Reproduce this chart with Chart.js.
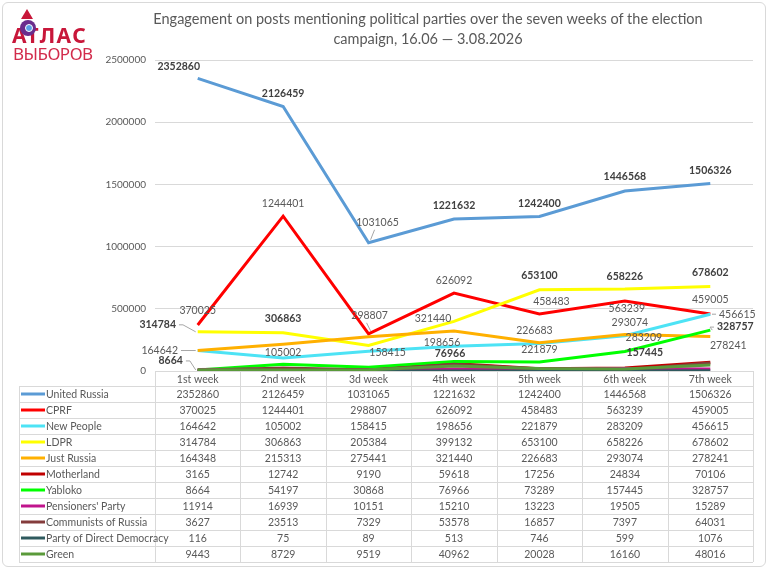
<!DOCTYPE html>
<html>
<head>
<meta charset="utf-8">
<script src="https://cdn.jsdelivr.net/npm/chart.js@4"></script>
<style>
  body { margin: 0; background: #fff; }
  #wrap { position: relative; width: 768px; height: 570px; }
  #frame { position: absolute; left: 2px; top: 2px; width: 762px; height: 563px; border: 1px solid #d9d9d9; border-radius: 6px; }
  #title { position: absolute; left: 100px; width: 656px; top: 9px; text-align: center; font: 14.5px Lato, sans-serif; color: #595959; line-height: 20px; }
  #logo1 { position: absolute; left: 12px; top: 22px; font: bold 21px "Noto Sans", sans-serif; color: #c8173a; letter-spacing: 1.5px; line-height: 26px; }
  #logo2 { position: absolute; left: 13px; top: 43px; font: 17px "Noto Sans", sans-serif; color: #d22b4b; letter-spacing: -0.5px; line-height: 22px; }
  #apex { position: absolute; left: 21px; top: 9px; width: 0; height: 0; border-left: 6px solid transparent; border-right: 6px solid transparent; border-bottom: 10px solid #c8173a; }
  #eye { position: absolute; left: 20px; top: 20px; width: 16px; height: 16px; border-radius: 50%; background: #6b2d8c; }
  #eye i { position: absolute; left: 5px; top: 4px; width: 6px; height: 6px; border-radius: 50%; background: #5aa0e6; border: 1px solid #fff; }
  canvas { position: absolute; left: 0; top: 0; }
</style>
</head>
<body>
<div id="wrap">
  <div id="frame"></div>
  <canvas id="chart" width="768" height="570"></canvas>
  <div id="title">Engagement on posts mentioning political parties over the seven weeks of the election<br>campaign, 16.06 — 3.08.2026</div>
  <div id="logo1">АТЛАС</div>
  <div id="apex"></div>
  <div id="eye"><i></i></div>
  <div id="logo2">ВЫБОРОВ</div>
</div>
<script>
const weeks = ['1st week', '2nd week', '3d week', '4th week', '5th week', '6th week', '7th week'];
const parties = ['United Russia', 'CPRF', 'New People', 'LDPR', 'Just Russia', 'Motherland', 'Yabloko',
  "Pensioners' Party", 'Communists of Russia', 'Party of Direct Democracy', 'Green'];

const unitedRussia = [2352860, 2126459, 1031065, 1221632, 1242400, 1446568, 1506326];
const cprf = [370025, 1244401, 298807, 626092, 458483, 563239, 459005];
const newPeople = [164642, 105002, 158415, 198656, 221879, 283209, 456615];
const ldpr = [314784, 306863, 205384, 399132, 653100, 658226, 678602];
const justRussia = [164348, 215313, 275441, 321440, 226683, 293074, 278241];
const motherland = [3165, 12742, 9190, 59618, 17256, 24834, 70106];
const yabloko = [8664, 54197, 30868, 76966, 73289, 157445, 328757];
const pensioners = [11914, 16939, 10151, 15210, 13223, 19505, 15289];
const communists = [3627, 23513, 7329, 53578, 16857, 7397, 64031];
const directDemocracy = [116, 75, 89, 513, 746, 599, 1076];
const green = [9443, 8729, 9519, 40962, 20028, 16160, 48016];

const series = [unitedRussia, cprf, newPeople, ldpr, justRussia, motherland, yabloko,
  pensioners, communists, directDemocracy, green];
const colors = ['#5b9bd5', '#ff0000', '#4de3f5', '#ffff00', '#ffb000', '#c00000', '#00ff00',
  '#c0148c', '#843c3c', '#2f5a5e', '#5a9a3a'];

// value labels: [point index, dx, dy, leader, bold override]
const labelSpots = {
  0: { bold: true, spots: [[0, -19, -12], [1, 0, -13], [2, 9, -20, 'up', false], [3, 0, -13], [4, 0, -13], [5, 0, -14], [6, 0, -13]] },
  1: { bold: false, spots: [[0, 0, -14], [1, 0, -13], [2, 1, -18, 'up'], [3, 0, -13], [4, 12, -12], [5, 2, 8], [6, 0, -14]] },
  2: { bold: false, spots: [[0, -38, 0, 'side'], [1, 0, -5], [2, 19, 1], [3, -12, -4], [4, 0, 6], [5, 19, 2], [6, 27, 0, 'side']] },
  3: { bold: true, spots: [[0, -40, -7, 'side'], [1, 0, -14], [4, 0, -14], [5, 0, -13], [6, 0, -14]] },
  4: { bold: false, spots: [[3, -21, -12], [4, -5, -12], [5, 5, -12], [6, 18, 9]] },
  6: { bold: true, spots: [[0, -27, -9, 'side'], [3, -4, -8], [5, 20, 1], [6, 25, -3, 'side']] }
};

const tablePlugin = {
  id: 'dataTable',
  afterDraw(chart) {
    const ctx = chart.ctx;
    const area = chart.chartArea;
    const x = chart.scales.x;
    const n = weeks.length;
    const band = (area.right - area.left) / n;
    const top = area.bottom;
    const headH = 15;
    const rowH = 16;
    const labelLeft = 19;
    const bottom = top + headH + rowH * parties.length;
    ctx.save();
    ctx.strokeStyle = '#d9d9d9';
    ctx.lineWidth = 1;
    ctx.beginPath();
    for (let i = 0; i <= n; i++) {
      const cx = Math.round(area.left + i * band) + 0.5;
      ctx.moveTo(cx, top);
      ctx.lineTo(cx, bottom);
    }
    ctx.moveTo(labelLeft + 0.5, top + headH);
    ctx.lineTo(labelLeft + 0.5, bottom);
    for (let r = 0; r <= parties.length; r++) {
      const y = Math.round(top + headH + r * rowH) + 0.5;
      ctx.moveTo(labelLeft, y);
      ctx.lineTo(area.right, y);
    }
    ctx.stroke();

    ctx.font = '10.5px Lato, sans-serif';
    ctx.fillStyle = '#595959';
    ctx.textBaseline = 'middle';
    ctx.textAlign = 'center';
    weeks.forEach((w, i) => ctx.fillText(w, x.getPixelForValue(i), top + headH / 2 + 1));
    parties.forEach((p, r) => {
      const y = top + headH + r * rowH + rowH / 2 + 1;
      ctx.strokeStyle = colors[r];
      ctx.lineWidth = 3;
      ctx.beginPath();
      ctx.moveTo(21, y - 1);
      ctx.lineTo(45, y - 1);
      ctx.stroke();
      ctx.textAlign = 'left';
      ctx.fillStyle = '#595959';
      ctx.fillText(p, 46, y);
      ctx.textAlign = 'center';
      series[r].forEach((v, i) => ctx.fillText(String(v), x.getPixelForValue(i), y));
    });
    ctx.restore();
  }
};

const valueLabelPlugin = {
  id: 'valueLabels',
  afterDatasetsDraw(chart) {
    const ctx = chart.ctx;
    ctx.save();
    ctx.textAlign = 'center';
    ctx.textBaseline = 'middle';
    Object.keys(labelSpots).forEach(k => {
      const ds = +k;
      const meta = chart.getDatasetMeta(ds);
      const cfg = labelSpots[k];
      cfg.spots.forEach(([i, dx, dy, leader, boldOverride]) => {
        const bold = boldOverride === undefined ? cfg.bold : boldOverride;
        ctx.font = (bold ? 'bold ' : '') + '10.5px Lato, sans-serif';
        const text = String(series[ds][i]);
        const pt = meta.data[i];
        const lx = pt.x + dx, ly = pt.y + dy;
        if (leader) {
          const w = ctx.measureText(text).width;
          ctx.strokeStyle = '#a6a6a6';
          ctx.lineWidth = 1;
          ctx.beginPath();
          if (leader === 'side') {
            const side = dx < 0 ? -1 : 1;
            const edge = lx - side * (w / 2 + 3);
            ctx.moveTo(edge, ly);
            ctx.lineTo(edge - side * 4, ly);
            ctx.lineTo(pt.x + side * 2, pt.y);
          } else {
            ctx.moveTo(pt.x + 2, pt.y - 3);
            ctx.lineTo(lx - 3, ly + 7);
          }
          ctx.stroke();
        }
        ctx.fillStyle = bold ? '#404040' : '#595959';
        ctx.fillText(text, lx, ly);
      });
    });
    ctx.restore();
  }
};

new Chart(document.getElementById('chart'), {
  type: 'line',
  data: {
    labels: weeks,
    datasets: parties.map((p, i) => ({
      label: p,
      data: series[i],
      borderColor: colors[i],
      backgroundColor: colors[i],
      borderWidth: 3,
      pointRadius: 0,
      tension: 0,
      order: parties.length - i
    }))
  },
  options: {
    responsive: false,
    animation: false,
    layout: { padding: { top: 60, right: 15, bottom: 199, left: 0 } },
    plugins: { legend: { display: false }, tooltip: { enabled: false } },
    scales: {
      x: { display: false, offset: true },
      y: {
        min: 0,
        max: 2500000,
        afterFit(s) { s.width = 155; },
        ticks: { stepSize: 500000, padding: 9, color: '#595959', font: { family: 'Lato', size: 10 }, callback: v => String(v) },
        grid: { color: '#d9d9d9', drawTicks: false },
        border: { display: false }
      }
    }
  },
  plugins: [tablePlugin, valueLabelPlugin]
});
</script>
</body>
</html>
